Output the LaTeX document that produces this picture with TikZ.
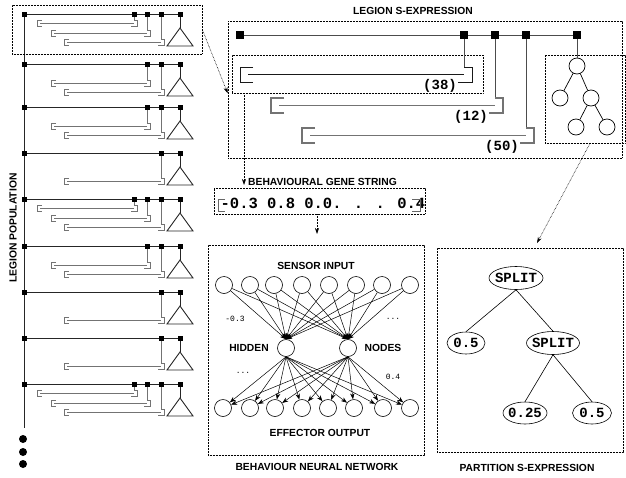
\documentclass[tikz,border=0pt]{standalone}
\usepackage{fontspec}
\setmainfont{Liberation Sans}
\newfontfamily\monof{Liberation Mono}
\usetikzlibrary{arrows.meta,shapes.geometric,calc}
\tikzset{
  ttl/.style={font=\bfseries\fontsize{10.3}{12}\selectfont, inner sep=0pt},
  dotbox/.style={draw, line width=0.6pt, dash pattern=on 0.6pt off 0.9pt},
  dotarrow/.style={draw, line width=0.6pt, dash pattern=on 0.6pt off 0.9pt, -{Stealth[length=6pt,width=4pt]}},
  pline/.style={line width=0.9pt, black!85},
  brk/.style={line width=0.8pt, black!55},
  sline/.style={line width=1pt, black!70},
  neuron/.style={circle, draw, line width=0.6pt, minimum size=17pt, inner sep=0pt},
  tnode/.style={circle, draw, line width=0.7pt, minimum size=16pt, inner sep=0pt},
  nnarrow/.style={line width=0.5pt, -{Stealth[length=6pt,width=4.5pt]}},
  pell/.style={ellipse, draw, line width=0.6pt, inner sep=0pt},
  ptext/.style={font=\monof\bfseries\fontsize{14}{16}\selectfont, inner sep=0pt},
  wlbl/.style={font=\monof\fontsize{8}{9}\selectfont, inner sep=0pt},
  gene/.style={font=\monof\bfseries\fontsize{15.5}{17}\selectfont, inner sep=0pt},
}
\newcommand\popbr[4]{%
  \pgfmathsetmacro\by{#1+#4}%
  \draw[brk] (#2+5,\by-3) -- (#2,\by-3) -- (#2,\by+3) -- (#2+5,\by+3);
  \draw[brk] (#2+3,\by) -- (#3,\by);
  \draw[brk] (#3,#1) -- (#3,\by-3) -- (#3+3,\by-3) -- (#3+3,\by+3) -- (#3-3,\by+3);
  \fill (#3-2.5,#1-2.5) rectangle (#3+2.5,#1+2.5);
}
\newcommand\bA[1]{\popbr{#1}{37}{134}{9.5}}
\newcommand\bB[1]{\popbr{#1}{51}{147}{19}}
\newcommand\bC[1]{\popbr{#1}{64}{161}{28.5}}
\newcommand\poprow[1]{%
  \draw[pline] (24,#1) -- (180,#1);
  \draw[pline] (180,#1) -- (180,#1+14);
  \draw[pline] (180,#1+14) -- (167,#1+32) -- (193,#1+32) -- cycle;
  \fill (24-2.5,#1-2.5) rectangle (24+2.5,#1+2.5);
  \fill (180-2.5,#1-2.5) rectangle (180+2.5,#1+2.5);
}
\newcommand\bigbr[4]{%
  \draw[#4] (#1+13,#3) -- (#1,#3) -- (#1,#3+15) -- (#1+13,#3+15);
  \draw[#4] (#1+8,#3+7.5) -- (#2,#3+7.5);
  \draw[#4] (#2,#3) -- (#2+8,#3) -- (#2+8,#3+15) -- (#2-6,#3+15);
}
\begin{document}
\begin{tikzpicture}[x=1pt,y=-1pt]
\useasboundingbox (0,0) rectangle (626,477);

% ---------------- population column
\draw[pline] (24,14) -- (24,428);
\poprow{14}\bA{14}\bB{14}\bC{14}
\poprow{64}\bB{64}\bC{64}
\poprow{107}\bB{107}\bC{107}
\poprow{153}\bC{153}
\poprow{199}\bA{199}\bB{199}\bC{199}
\poprow{246}\bB{246}\bC{246}
\poprow{292}\bC{292}
\poprow{338}\bC{338}
\poprow{384}\bA{384}\bB{384}\bC{384}
\fill (23,439) circle (4pt);
\fill (23,452) circle (4pt);
\fill (23,464) circle (4pt);
\node[ttl, rotate=90] (poplbl) at (13,228) {LEGION POPULATION};
\node[dotbox, minimum width=190pt, minimum height=49pt] (popbox) at (107,29.5) {};

% ---------------- legion s-expression
\node[ttl] (sextitle) at (413,11) {LEGION S-EXPRESSION};
\node[dotbox, minimum width=394pt, minimum height=137pt] (sexpbox) at (425,89.5) {};
\node[dotbox, minimum width=251pt, minimum height=38pt] (b1box) at (357.5,74) {};
\node[dotbox, minimum width=80pt, minimum height=88pt] (treebox) at (585,99) {};

\node[tnode] (t0) at (577,66) {};
\node[tnode] (t1) at (560,98) {};
\node[tnode] (t2) at (591,98) {};
\node[tnode] (t3) at (576,127) {};
\node[tnode] (t4) at (607,127) {};
\draw[line width=0.7pt] (t0) -- (t1);
\draw[line width=0.7pt] (t0) -- (t2);
\draw[line width=0.7pt] (t2) -- (t3);
\draw[line width=0.7pt] (t2) -- (t4);

\draw[sline] (240,35) -- (577,35);
\draw[sline] (464,35) -- (464,67);
\draw[sline] (495,35) -- (495,98);
\draw[sline] (526,35) -- (526,128);
\draw[sline] (577,35) -- (t0.north);
\foreach \sx in {240,464,495,526,577}
  \fill (\sx-4,31) rectangle (\sx+4,39);
\bigbr{240}{464}{67}{line width=0.8pt, black!90}
\bigbr{271}{495}{98}{line width=1.1pt, black!55}
\bigbr{302}{526}{128}{line width=1.1pt, black!55}
\node[ptext] (l38) at (440,86) {(38)};
\node[ptext] (l12) at (471,117) {(12)};
\node[ptext] (l50) at (502,147) {(50)};

\draw[dotarrow] (popbox.east) -- (sexpbox.west |- b1box.south);

% ---------------- gene string
\coordinate (gtip) at (244,185);
\node[ttl, anchor=west] (genetitle) at (248,182) {BEHAVIOURAL GENE STRING};
\draw[dotarrow] (b1box.south -| gtip) -- (gtip);
\node[dotbox, minimum width=211pt, minimum height=26pt] (genebox) at (319.5,201) {};
\node[gene] (genestr) at (323,203.5) {-0.3 0.8 0.0. . . 0.4};
\draw[line width=0.8pt, black!60] (225,199) -- (218,199) -- (218,211) -- (225,211);
\draw[line width=0.8pt, black!60] (412,199) -- (420,199) -- (420,211) -- (412,211);

% ---------------- neural network
\coordinate (nntip) at (317,234);
\draw[dotarrow] (genebox.south -| nntip) -- (nntip);
\node[dotbox, minimum width=216pt, minimum height=210pt] (nnbox) at (316,350) {};
\node[ttl] (nntitle) at (317,467) {BEHAVIOUR NEURAL NETWORK};
\node[ttl] (sensorlbl) at (316,266) {SENSOR INPUT};
\node[ttl] (efflbl) at (320,433) {EFFECTOR OUTPUT};
\node[ttl] (hidlbl) at (249,348) {HIDDEN};
\node[ttl] (nodlbl) at (383,348) {NODES};
\foreach \x [count=\i] in {224,250,274,302,329,356,382,410}
  \node[neuron] (in\i) at (\x,285) {};
\foreach \x [count=\i] in {223,250,275,302,328,354,383,410}
  \node[neuron] (out\i) at (\x,408) {};
\node[neuron] (h1) at (286,348) {};
\node[neuron] (h2) at (348,348) {};
\foreach \i in {1,...,8}{
  \draw[nnarrow] (in\i) -- (h1.north);
  \draw[nnarrow] (in\i) -- (h2.north);
  \draw[nnarrow] (h1.south) -- (out\i);
  \draw[nnarrow] (h2.south) -- (out\i);
}
\node[wlbl] (wa) at (235,319) {-0.3};
\node[wlbl] (wb) at (393,319) {...};
\node[wlbl] (wc) at (243,373) {...};
\node[wlbl] (wd) at (393,377) {0.4};

% ---------------- partition s-expression
\node[dotbox, minimum width=186pt, minimum height=204pt] (partbox) at (530,350) {};
\node[ttl] (parttitle) at (527,468) {PARTITION S-EXPRESSION};
\coordinate (ptip) at (537,243);
\draw[dotarrow] ([xshift=5pt]treebox.south) -- (ptip);
\node[pell, minimum width=54pt, minimum height=23pt] (p0) at (516,278) {};
\node[pell, minimum width=38pt, minimum height=22pt] (p1) at (466,343) {};
\node[pell, minimum width=53pt, minimum height=23pt] (p2) at (553,343) {};
\node[pell, minimum width=44pt, minimum height=22pt] (p3) at (525,413) {};
\node[pell, minimum width=39pt, minimum height=22pt] (p4) at (592,413) {};
\node[ptext] (p0t) at (p0) {SPLIT};
\node[ptext] (p1t) at (p1) {0.5};
\node[ptext] (p2t) at (p2) {SPLIT};
\node[ptext] (p3t) at (p3) {0.25};
\node[ptext] (p4t) at (p4) {0.5};
\draw[line width=0.6pt] (p0.south) -- (p1.north);
\draw[line width=0.6pt] (p0.south) -- (p2.north);
\draw[line width=0.6pt] (p2.south) -- (p3.north);
\draw[line width=0.6pt] (p2.south) -- (p4.north);
\end{tikzpicture}
\end{document}
